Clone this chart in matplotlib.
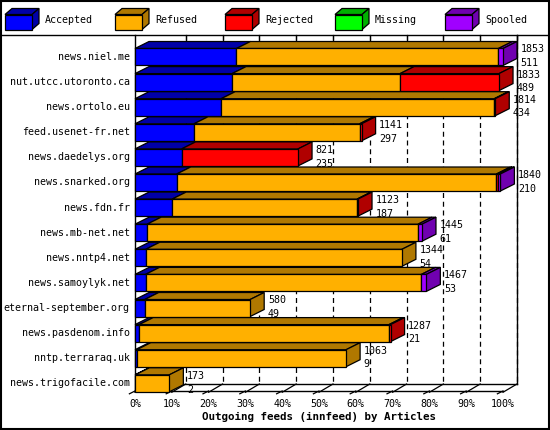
import matplotlib
matplotlib.use("Agg")
import matplotlib.pyplot as plt
from matplotlib.patches import Polygon, Rectangle

hosts = ["news.niel.me", "nut.utcc.utoronto.ca", "news.ortolo.eu", "feed.usenet-fr.net",
         "news.daedelys.org", "news.snarked.org", "news.fdn.fr", "news.mb-net.net",
         "news.nntp4.net", "news.samoylyk.net", "eternal-september.org",
         "news.pasdenom.info", "nntp.terraraq.uk", "news.trigofacile.com"]
accepted = [511, 489, 434, 297, 235, 210, 187, 61, 54, 53, 49, 21, 9, 2]
refused  = [1319, 846, 1375, 834, 0, 1610, 931, 1364, 1290, 1389, 531, 1258, 1054, 171]
rejected = [0, 498, 5, 10, 586, 8, 5, 0, 0, 0, 0, 8, 0, 0]
missing  = [0, 0, 0, 0, 0, 0, 0, 0, 0, 0, 0, 0, 0, 0]
spooled  = [23, 0, 0, 0, 0, 12, 0, 20, 0, 25, 0, 0, 0, 0]
totals   = [1853, 1833, 1814, 1141, 821, 1840, 1123, 1445, 1344, 1467, 580, 1287, 1063, 173]
series_names = ["Accepted", "Refused", "Rejected", "Missing", "Spooled"]
front = ["#0000ff", "#ffb000", "#ff0000", "#00ff00", "#a000ff"]
dark = ["#0000a8", "#b07800", "#b00000", "#00b000", "#7000b0"]
ticks = list(range(0, 101, 10))
xlabel = "Outgoing feeds (innfeed) by Articles"

W, H = 550, 430
fig = plt.figure(figsize=(W / 100, H / 100), dpi=100)
mono = "DejaVu Sans Mono"
fs = 7.2

ov = fig.add_axes([0, 0, 1, 1])
ov.set_xlim(0, W); ov.set_ylim(H, 0); ov.axis("off")
ov.add_patch(Rectangle((1, 1), W - 2, H - 2, fill=False, ec="black", lw=1.5))
ov.plot([1, W - 1], [35, 35], color="black", lw=1)

def box3d(ax, x0, x1, yc, h, dx, dy, fc, dc, side=True):
    yt, yb = yc - h / 2, yc + h / 2
    ax.add_patch(Polygon([(x0, yt), (x1, yt), (x1 + dx, yt - dy), (x0 + dx, yt - dy)],
                         closed=True, fc=dc, ec="black", lw=0.9, clip_on=False, zorder=3))
    if side:
        ax.add_patch(Polygon([(x1, yt), (x1, yb), (x1 + dx, yb - dy), (x1 + dx, yt - dy)],
                             closed=True, fc=dc, ec="black", lw=0.9, clip_on=False, zorder=3))
    ax.add_patch(Rectangle((x0, yt), x1 - x0, h, fc=fc, ec="black", lw=0.9, clip_on=False, zorder=3))

for i, name in enumerate(series_names):
    bx = 5 + 110 * i
    box3d(ov, bx, bx + 27, 22, 15, 7, 6, front[i], dark[i])
    ov.text(bx + 40, 20, name, fontsize=fs, family=mono, va="center")

px0, px100 = 135, 503
ppp = (px100 - px0) / 100.0
top_px, bot_px = 35, 392
row0, rowsp = 57, 25.1
xr = (520 - px0) / ppp
ax = fig.add_axes([px0 / W, 1 - bot_px / H, (520 - px0) / W, (bot_px - top_px) / H])
ylo = (top_px - row0) / rowsp
yhi = (bot_px - row0) / rowsp
ax.set_xlim(0, xr); ax.set_ylim(yhi, ylo); ax.axis("off")
dx = 14 / ppp
dy = 7 / rowsp
floor_f = (391 - row0) / rowsp
floor_b = floor_f - dy

for t in ticks[1:]:
    ax.plot([t + dx, t + dx], [ylo, floor_b], color="black", lw=0.9, ls=(0, (4, 3)), clip_on=False, zorder=1)
    ax.plot([t + dx, t + dx], [ylo, ylo + 0.3], color="black", lw=0.9, clip_on=False, zorder=1)
ax.plot([dx + 100, dx + 100], [ylo, floor_b], color="black", lw=1, clip_on=False, zorder=1)
ax.plot([0, 0], [ylo, floor_f], color="black", lw=1, clip_on=False, zorder=1)
ax.plot([0, 100], [floor_f, floor_f], color="black", lw=1, clip_on=False, zorder=1)
ax.plot([dx, 100 + dx], [floor_b, floor_b], color="black", lw=1, clip_on=False, zorder=1)
for t in ticks:
    ax.plot([t, t + dx], [floor_f + 0.05, floor_b], color="black", lw=0.9, clip_on=False, zorder=1)
    ax.plot([t - dx * 0.4, t], [floor_f + dy * 0.4, floor_f], color="black", lw=0.9, clip_on=False, zorder=1)
    ax.text(t, floor_f + 0.5, f"{t}%", fontsize=fs, family=mono, ha="center", va="center", clip_on=False)
ax.text(50, floor_f + 1.05, xlabel, fontsize=fs + 0.6, family=mono, weight="bold",
        ha="center", va="center", clip_on=False)

mx = max(totals)
h = 17 / rowsp
for r, host in enumerate(hosts):
    vals = [accepted[r], refused[r], rejected[r], missing[r], spooled[r]]
    segs = [(k, v) for k, v in enumerate(vals) if v > 0]
    x = 0.0
    for j, (k, v) in enumerate(segs):
        w = v / mx * 100
        box3d(ax, x, x + w, r, h, dx, dy, front[k], dark[k], side=(j == len(segs) - 1))
        x += w
    ax.text(-1.4, r, host, fontsize=fs, family=mono, ha="right", va="center", clip_on=False)
    ax.text(x + dx + 1.0, r - 0.3, str(totals[r]), fontsize=fs, family=mono, va="center", clip_on=False, zorder=4)
    ax.text(x + dx + 1.0, r + 0.25, str(accepted[r]), fontsize=fs, family=mono, va="center", clip_on=False, zorder=4)

fig.savefig("out.png", dpi=100)
